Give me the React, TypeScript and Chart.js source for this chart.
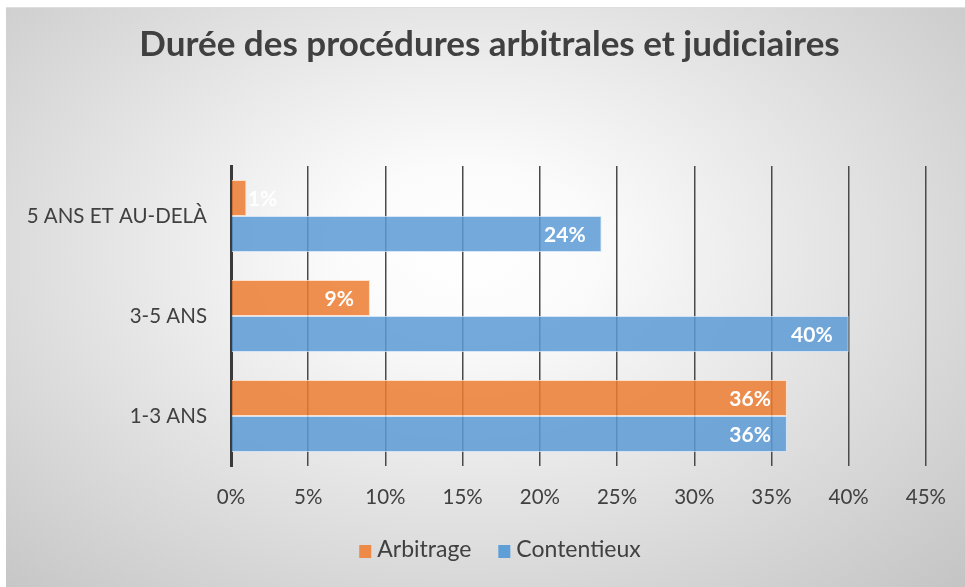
import React, { useEffect, useRef } from "react";
import { Chart, registerables } from "chart.js";

Chart.register(...registerables);

const title = "Durée des procédures arbitrales et judiciaires";
const categories = ["5 ANS ET AU-DELÀ", "3-5 ANS", "1-3 ANS"];
const seriesNames = ["Arbitrage", "Contentieux"];
const arbitrage = [1, 9, 36];
const contentieux = [24, 40, 36];
const xMax = 45;
const xStep = 5;

const FONT = "Lato, 'Open Sans', sans-serif";
const TEXT = "#404040";

const valueLabels = {
  id: "valueLabels",
  afterDatasetsDraw(chart: any) {
    const ctx = chart.ctx;
    ctx.save();
    ctx.font = `bold 21px ${FONT}`;
    ctx.fillStyle = "#ffffff";
    ctx.textBaseline = "middle";
    chart.data.datasets.forEach((ds: any, di: number) => {
      const meta = chart.getDatasetMeta(di);
      meta.data.forEach((el: any, i: number) => {
        const v = ds.data[i];
        const text = `${v}%`;
        const w = ctx.measureText(text).width;
        const pad = 16;
        const end = el.x;
        const base = el.base;
        let x: number;
        if (end - base - 2 * pad >= w) {
          ctx.textAlign = "right";
          x = end - pad;
        } else {
          ctx.textAlign = "left";
          x = base + pad;
        }
        ctx.fillText(text, x, el.y + 1);
      });
    });
    ctx.restore();
  },
};

const titleAndLegend = {
  id: "titleAndLegend",
  afterDraw(chart: any) {
    const ctx = chart.ctx;
    ctx.save();
    // title
    ctx.font = `bold 35px ${FONT}`;
    ctx.fillStyle = TEXT;
    ctx.textAlign = "center";
    ctx.textBaseline = "alphabetic";
    ctx.fillText(chart.options.plugins.customTitle.text, 483.5, 49);
    // legend
    ctx.font = `23px ${FONT}`;
    const items = chart.data.datasets.map((ds: any) => ({
      label: ds.label,
      color: ds.legendColor,
      w: ctx.measureText(ds.label).width,
    }));
    const box = 12;
    const gap = 6;
    const itemGap = 27;
    const total =
      items.reduce((a: number, it: any) => a + box + gap + it.w, 0) +
      itemGap * (items.length - 1);
    let x = 494 - total / 2;
    const baseline = 550;
    ctx.textAlign = "left";
    items.forEach((it: any) => {
      ctx.fillStyle = it.color;
      ctx.fillRect(x, baseline - 12, box, 13);
      x += box + gap;
      ctx.fillStyle = TEXT;
      ctx.fillText(it.label, x, baseline);
      x += it.w + itemGap;
    });
    ctx.restore();
  },
};

export default function App() {
  const ref = useRef<HTMLCanvasElement | null>(null);
  useEffect(() => {
    if (!ref.current) return;
    const chart = new Chart(ref.current, {
      type: "bar",
      data: {
        labels: categories,
        datasets: [
          {
            label: seriesNames[0],
            data: arbitrage,
            backgroundColor: "rgba(237,125,49,0.85)",
            borderColor: "rgba(255,220,195,0.8)",
            borderWidth: 1,
            categoryPercentage: 0.72,
            barPercentage: 1,
            legendColor: "#ED8A48",
          } as any,
          {
            label: seriesNames[1],
            data: contentieux,
            backgroundColor: "rgba(91,155,213,0.85)",
            borderColor: "rgba(205,225,245,0.8)",
            borderWidth: 1,
            categoryPercentage: 0.72,
            barPercentage: 1,
            legendColor: "#5F9FD8",
          } as any,
        ],
      },
      options: {
        indexAxis: "y",
        animation: false,
        responsive: false,
        layout: { padding: { left: 0, right: 35, top: 159, bottom: 71 } },
        plugins: {
          title: { display: false },
          customTitle: { text: title },
          legend: { display: false },
          tooltip: { enabled: false },
        } as any,
        scales: {
          x: {
            min: 0,
            max: xMax,
            ticks: {
              stepSize: xStep,
              color: TEXT,
              font: { family: FONT, size: 20.5 },
              padding: 19,
              callback: (v: any) => `${v}%`,
            },
            grid: { color: "#4a4a4a", lineWidth: 1.5, drawTicks: false },
            border: { display: false },
            afterFit: (s: any) => {
              s.height = 50;
            },
          },
          y: {
            ticks: {
              color: TEXT,
              font: { family: FONT, size: 20.5 },
              padding: 24,
            },
            grid: { display: false, drawTicks: false },
            border: { color: "#3a3a3a", width: 3 },
            afterFit: (s: any) => {
              s.width = 225;
            },
          },
        },
      },
      plugins: [valueLabels, titleAndLegend],
    });
    return () => chart.destroy();
  }, []);

  return (
    <div
      style={{
        position: "absolute",
        left: 6,
        top: 7,
        width: 959,
        height: 580,
        background:
          "radial-gradient(ellipse farthest-corner at 48% 42%, #ffffff 0%, #fbfbfb 18%, #c4c4c4 100%)",
        boxShadow: "inset 0 1px 0 #dedede",
      }}
    >
      <canvas ref={ref} width={959} height={580} style={{ display: "block" }} />
    </div>
  );
}
